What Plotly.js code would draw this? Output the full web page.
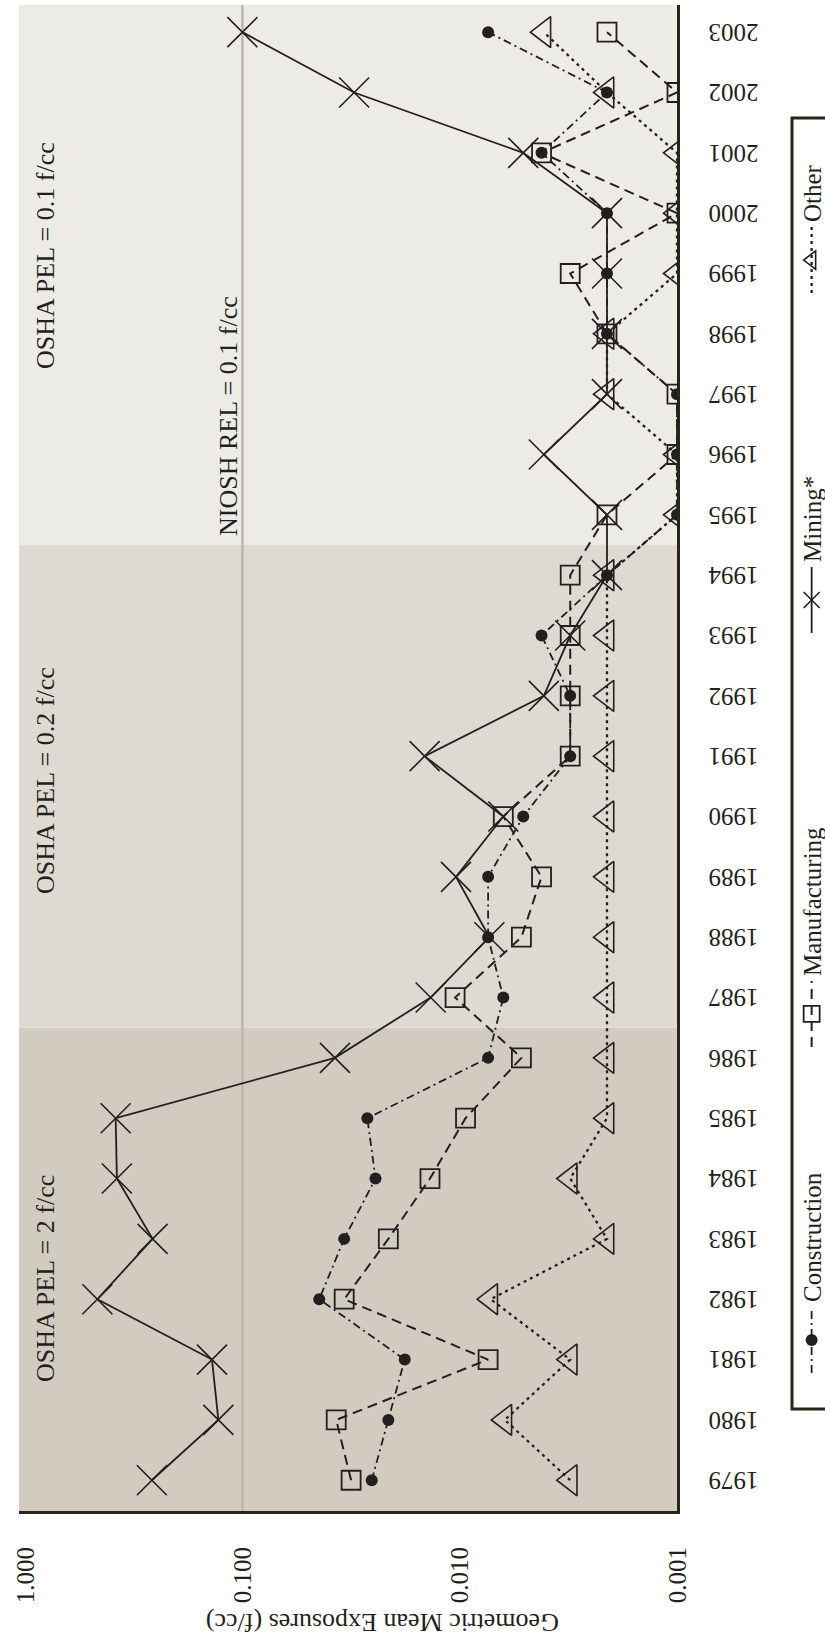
<!DOCTYPE html>
<html><head><meta charset="utf-8">
<script src="https://cdn.plot.ly/plotly-3.0.1.min.js"></script>
<style>
html,body{margin:0;padding:0;width:825px;height:1642px;overflow:hidden;background:#fff;}
#chart{position:absolute;left:0;top:0;width:1642px;height:825px;transform-origin:0 0;transform:translateY(1642px) rotate(-90deg);}
</style></head><body><div id="chart"></div>
<script>
const years = [1979,1980,1981,1982,1983,1984,1985,1986,1987,1988,1989,1990,1991,1992,1993,1994,1995,1996,1997,1998,1999,2000,2001,2002,2003];
const yearLabels = years.map(String);
const construction  = [0.0254,0.0213,0.0179,0.0443,0.0340,0.0244,0.0266,0.0074,0.0063,0.0074,0.0074,0.0051,0.0031,0.0031,0.0042,0.0021,0.0010,0.0010,0.0010,0.0021,0.0021,0.0021,0.0042,0.0021,0.0074];
const manufacturing = [0.0316,0.0370,0.0074,0.0340,0.0213,0.0137,0.0094,0.0052,0.0105,0.0052,0.0042,0.0063,0.0031,0.0031,0.0031,0.0031,0.0021,0.0010,0.0010,0.0021,0.0031,0.0010,0.0042,0.0010,0.0021];
const mining        = [0.261,0.129,0.138,0.465,0.259,0.378,0.383,0.0375,0.0136,0.0073,0.0104,0.0063,0.0145,0.0041,0.0031,0.0021,0.0021,0.0041,0.0021,0.0021,0.0021,0.0021,0.0051,0.0306,0.100];
const other         = [0.0031,0.0062,0.0031,0.0072,0.0021,0.0031,0.0021,0.0021,0.0021,0.0021,0.0021,0.0021,0.0021,0.0021,0.0021,0.0021,0.0010,0.0010,0.0021,0.0021,0.0010,0.0010,0.0010,0.0021,0.0041];
const valueTicks = [0.001,0.01,0.1,1];
const valueTickLabels = ['0.001','0.010','0.100','1.000'];
const bandEdges = [1986.5,1994.5];
const bandLabels = ['OSHA PEL = 2 f/cc','OSHA PEL = 0.2 f/cc','OSHA PEL = 0.1 f/cc'];
const bandLabelYears = [1982.35,1990.6,1999.3];
const nioshValue = 0.1;
const nioshLabel = 'NIOSH REL = 0.1 f/cc';

const FONT = 'Liberation Serif, Times New Roman, serif';
const INK = '#231f20';
const xr = [1978.49, 2003.45];

const traces = [
  {x: years, y: construction, name: 'Construction', legend: 'legend', type: 'scatter', mode: 'lines+markers',
   line: {color: INK, width: 1.8, dash: '8px,4px,2px,4px'}, marker: {symbol: 'circle', size: 12, color: INK}},
  {x: years, y: manufacturing, name: 'Manufacturing', legend: 'legend2', type: 'scatter', mode: 'lines+markers',
   line: {color: INK, width: 2, dash: '10px,6px'}, marker: {symbol: 'square-open', size: 19, color: INK, line: {width: 1.8, color: INK}}},
  {x: years, y: mining, name: 'Mining*', legend: 'legend3', type: 'scatter', mode: 'lines+markers',
   line: {color: INK, width: 1.8}, marker: {symbol: 'x-thin-open', size: 30, color: INK, line: {width: 1.6, color: INK}}},
  {x: years, y: other, name: 'Other', legend: 'legend4', type: 'scatter', mode: 'lines+markers',
   line: {color: INK, width: 2.3, dash: '3px,4px'}, marker: {symbol: 'triangle-up-open', size: 27, color: INK, line: {width: 1.6, color: INK}}}
];

function lg(xp){
  return {x: xp, xref: 'paper', xanchor: 'left', y: -0.205, yanchor: 'middle', orientation: 'h',
    bgcolor: 'rgba(0,0,0,0)', borderwidth: 0, itemwidth: 66,
    font: {family: FONT, size: 25, color: INK}};
}

const shapes = [
  {type: 'rect', xref: 'x', yref: 'paper', x0: xr[0], x1: bandEdges[0], y0: 0, y1: 1, fillcolor: '#d2ccc0', line: {width: 0}, layer: 'below'},
  {type: 'rect', xref: 'x', yref: 'paper', x0: bandEdges[0], x1: bandEdges[1], y0: 0, y1: 1, fillcolor: '#dedad2', line: {width: 0}, layer: 'below'},
  {type: 'rect', xref: 'x', yref: 'paper', x0: bandEdges[1], x1: xr[1], y0: 0, y1: 1, fillcolor: '#ecebe6', line: {width: 0}, layer: 'below'},
  {type: 'line', xref: 'paper', yref: 'y', x0: 0, x1: 1, y0: nioshValue, y1: nioshValue, line: {color: '#bdb6a8', width: 2.5}, layer: 'below'},
  {type: 'rect', xref: 'paper', yref: 'paper', x0: 0.0677, x1: 0.925, y0: -0.1748, y1: -0.30, line: {color: '#2b2419', width: 3}, fillcolor: 'rgba(0,0,0,0)'}
];

const annotations = bandLabels.map((t, i) => ({
  text: t, x: bandLabelYears[i], xref: 'x', y: 0.959, yref: 'paper', xanchor: 'center', yanchor: 'middle',
  showarrow: false, font: {family: FONT, size: 26, color: INK}
}));
annotations.push({text: nioshLabel, x: 1996.64, xref: 'x', y: -0.936, yref: 'y', xanchor: 'center', yanchor: 'middle',
  showarrow: false, font: {family: FONT, size: 26, color: INK}});
annotations.push({text: 'Geometric Mean Exposures (f/cc)', textangle: -90, x: -0.0737, xref: 'paper', y: 0.447, yref: 'paper',
  xanchor: 'center', yanchor: 'middle', showarrow: false, font: {family: FONT, size: 26, color: INK}});

const layout = {
  width: 1642, height: 825,
  margin: {l: 131, r: 5, t: 19, b: 148, autoexpand: false},
  paper_bgcolor: '#ffffff', plot_bgcolor: '#ffffff',
  showlegend: true,
  legend: lg(0.0883), legend2: lg(0.3048), legend3: lg(0.5797), legend4: lg(0.8054),
  xaxis: {range: xr, tickvals: years, ticktext: yearLabels, tickangle: -90, ticks: '', showgrid: false, zeroline: false,
    showline: true, linecolor: '#2b2419', linewidth: 2.5, ticklabelstandoff: 19,
    tickfont: {family: FONT, size: 25, color: INK}},
  yaxis: {type: 'log', range: [-3, 0.028], tickvals: valueTicks, ticktext: valueTickLabels, ticks: '', showgrid: false, zeroline: false,
    showline: true, linecolor: '#2b2419', linewidth: 3, ticklabelstandoff: 28,
    tickfont: {family: FONT, size: 25, color: INK}},
  shapes: shapes, annotations: annotations
};

Plotly.newPlot('chart', traces, layout, {staticPlot: true, displayModeBar: false});
</script></body></html>
